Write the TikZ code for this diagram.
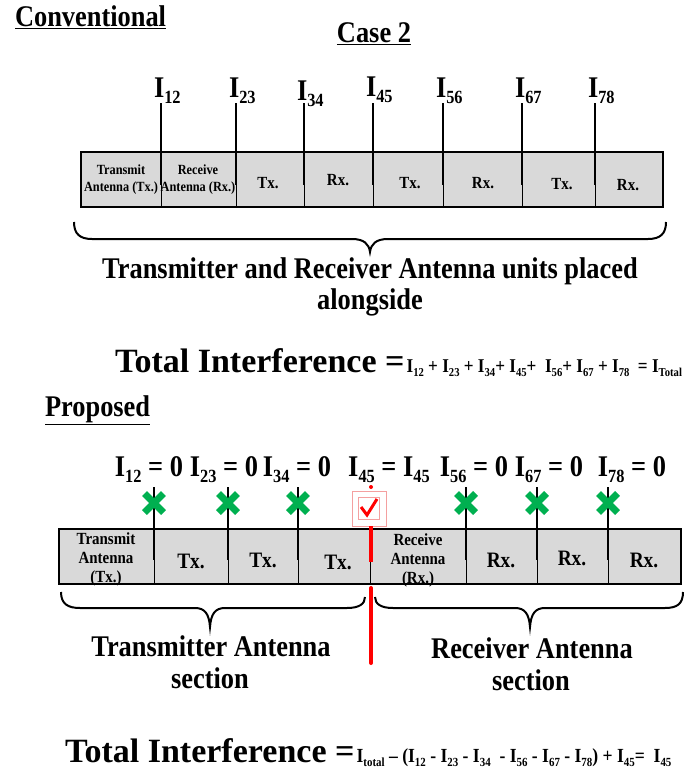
\documentclass[tikz,border=0pt]{standalone}
\usepackage{fontspec}
\usepackage{graphicx}
\newfontfamily\tf{Liberation Serif}[FakeStretch=0.88]
\newfontfamily\tfw{Liberation Serif}
\definecolor{boxgray}{HTML}{D9D9D9}
\definecolor{xgreen}{HTML}{00B050}
\definecolor{pinkline}{HTML}{F4A0A0}
\newcommand\fsz[1]{\fontsize{#1}{#1}\selectfont}
\newcommand\Isub[1]{I\raisebox{-0.22em}{\scalebox{0.62}{#1}}}
\begin{document}
\begin{tikzpicture}[x=1pt,y=-1pt,font=\tf\bfseries,
  txt/.style={inner sep=0pt,outer sep=0pt},
  cellbox/.style={draw=black,line width=2.4pt,fill=boxgray},
  ind/.style={line width=2.2pt},
  divline/.style={line width=1pt},
  bracepath/.style={line width=2pt},
  xmark/.style={xgreen,line width=7pt},
  redbar/.style={red,line width=4pt}]
\useasboundingbox (0,0) rectangle (699,768);

% ---------- Conventional ----------
\node[txt,anchor=base west] (conv) at (15,27) {\fsz{30}\underline{Conventional}};
\node[txt,anchor=base] (case) at (374,43) {\fsz{30}\underline{Case 2}};

\draw[cellbox] (81,152) rectangle (663,207);
\foreach \x/\s/\b in {161/12/97,236/23/97,304/34/100,373/45/96,443/56/97,522/67/97,595/78/97}{
  \draw[divline] (\x,152) -- (\x,207);
  \draw[ind] (\x,103) -- (\x,185);
  \node[txt,anchor=base west] (top\s) at (\x-7,\b) {\fsz{30}\Isub{\s}};
}
\node[txt,align=center,font=\tf\bfseries\fontsize{14}{17}\selectfont] (c1) at (121,180) {Transmit\\Antenna (Tx.)};
\node[txt,align=center,font=\tf\bfseries\fontsize{14}{17}\selectfont] (c2) at (198,180) {Receive\\Antenna (Rx.)};
\foreach \x/\y/\t [count=\i] in {268/183/Tx.,338/180/Rx.,410/183/Tx.,483/183/Rx.,562/184/Tx.,628/185/Rx.}
  \node[txt,font=\tf\bfseries\fsz{17}] (cc\i) at (\x,\y) {\t};

\draw[bracepath] (74,222) .. controls (74,234) and (80,239) .. (92,239) -- (352,239)
  .. controls (364,239) and (369,244) .. (370,252) .. controls (371,244) and (376,239) .. (388,239)
  -- (648,239) .. controls (660,239) and (666,234) .. (666,222);
\node[txt,anchor=base] (l1) at (370,278) {\fsz{30}Transmitter and Receiver Antenna units placed};
\node[txt,anchor=base] (l2) at (370,309) {\fsz{30}alongside};

\node[txt,anchor=base west] (eq1) at (115,372) {{\tfw\bfseries\fsz{34}Total Interference =} \fsz{19.5}\Isub{12} + \Isub{23} + \Isub{34}+ \Isub{45}+ ~\Isub{56}+ \Isub{67} + \Isub{78} ~= \Isub{Total}};

% ---------- Proposed ----------
\node[txt,anchor=base west] (prop) at (45,416) {\fsz{30}\underline{Proposed}};
\foreach \x/\t [count=\i] in {149/{\Isub{12} = 0},224/{\Isub{23} = 0},297/{\Isub{34} = 0},389/{\Isub{45} = \Isub{45}},474/{\Isub{56} = 0},549/{\Isub{67} = 0},632/{\Isub{78} = 0}}
  \node[txt,anchor=base] (pl\i) at (\x,476) {\fsz{30}\t};

\draw[cellbox] (59,529) rectangle (681,584);
\foreach \x in {154,228,298,370,466,537,608}
  \draw[divline] (\x,529) -- (\x,584);
\foreach \x in {154,228,298,466,537,608}{
  \draw[ind] (\x,487) -- (\x,560);
  \draw[xmark] (\x-9.5,493.5) -- (\x+9.5,512.5);
  \draw[xmark] (\x-9.5,512.5) -- (\x+9.5,493.5);
}
\node[txt,align=center,font=\tf\bfseries\fontsize{17}{19}\selectfont] (d1) at (106,559) {Transmit\\Antenna\\(Tx.)};
\node[txt,align=center,font=\tf\bfseries\fontsize{17}{19}\selectfont] (d5) at (418,560) {Receive\\Antenna\\(Rx.)};
\foreach \x/\y/\t [count=\i] in {191/561/Tx.,263/560/Tx.,338/562/Tx.,501/560/Rx.,572/558/Rx.,644/560/Rx.}
  \node[txt,font=\tf\bfseries\fsz{22}] (dd\i) at (\x,\y) {\t};

% red marker
\fill[red] (371,487) circle (2);
\draw[pinkline,line width=1pt] (352,491) rectangle (386,526);
\draw[pinkline,line width=0.8pt] (358,497) rectangle (379,519);
\draw[red,line width=3pt] (361,507) -- (367,515) -- (377,499);
\draw[redbar] (371,526) -- (371,562);
\draw[redbar,line cap=round] (371,588) -- (371,663);

\draw[bracepath] (61,592) .. controls (61,604) and (68,608) .. (80,608) -- (195,608)
  .. controls (205,608) and (209,614) .. (210,627) .. controls (211,614) and (215,608) .. (225,608)
  -- (347,608) .. controls (359,608) and (365,604) .. (365,597);
\draw[bracepath] (375,597) .. controls (375,604) and (381,608) .. (393,608) -- (515,608)
  .. controls (525,608) and (529,614) .. (530,627) .. controls (531,614) and (535,608) .. (545,608)
  -- (665,608) .. controls (677,608) and (683,604) .. (683,592);

\node[txt,anchor=base] (s1) at (211,656) {\fsz{30}Transmitter Antenna};
\node[txt,anchor=base] (s2) at (210,688) {\fsz{30}section};
\node[txt,anchor=base] (s3) at (532,658) {\fsz{30}Receiver Antenna};
\node[txt,anchor=base] (s4) at (531,690) {\fsz{30}section};

\node[txt,anchor=base west] (eq2) at (65,762) {{\tfw\bfseries\fsz{34}Total Interference =} \fsz{20}\Isub{total} \textendash{} (\Isub{12} - \Isub{23} - \Isub{34} ~- \Isub{56} - \Isub{67} - \Isub{78}) + \Isub{45}= ~\Isub{45}};
\end{tikzpicture}
\end{document}
